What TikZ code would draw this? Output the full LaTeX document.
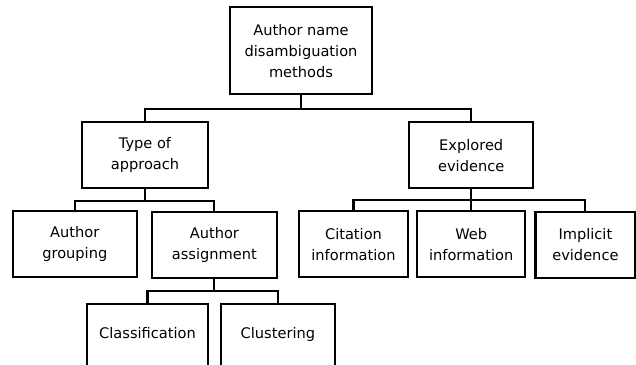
\documentclass[tikz,border=0pt]{standalone}
\usepackage{fontspec}
\setmainfont{DejaVu Sans}
\usetikzlibrary{positioning}

\tikzset{
  catbox/.style={draw, line width=2.1pt, align=center, minimum height=66pt,
    inner sep=0pt, font=\fontsize{14.6}{21}\selectfont},
  leafbox/.style={catbox, minimum height=62pt, text height=10.6pt, text depth=3.4pt, anchor=north},
  branch/.style={line width=2.1pt}
}

\begin{document}
\begin{tikzpicture}[x=1pt, y=-1pt]
    \clip (0,0) rectangle (636,364);
    \useasboundingbox (0,0) rectangle (636,364);
    % root
    \node[catbox, minimum width=142pt, minimum height=86.7pt] (root) at (301,50.7) {Author name\\disambiguation\\methods};
    % second level
    \node[catbox, minimum width=125.3pt] (approach) at (145,155.3) {Type of\\approach};
    \node[catbox, minimum width=123.7pt] (evidence) at (471.2,155.3) {Explored\\evidence};
    % third level
    \node[catbox, minimum width=123.7pt] (grouping) at (74.8,244.2) {Author\\grouping};
    \node[catbox, minimum width=124.7pt] (assignment) at (214.4,245.3) {Author\\assignment};
    \node[catbox, minimum width=108.3pt] (citation) at (353.5,244.2) {Citation\\information};
    \node[catbox, minimum width=108.4pt] (web) at (471.2,244.2) {Web\\information};
    \node[catbox, minimum width=99.8pt] (implicit) at (585.4,245) {Implicit\\evidence};
    % fourth level
    \node[leafbox, minimum width=120.5pt] (classification) at (147.5,302.7) {Classification};
    \node[leafbox, minimum width=113.7pt] (clustering) at (277.9,302.7) {Clustering};
    % connectors
    \draw[branch] (root.south) -- ++(0,13.7) -| (approach.north);
    \draw[branch] (root.south) -- ++(0,13.7) -| (evidence.north);
    \draw[branch] (approach.south) -- ++(0,11.7) -| (grouping.north);
    \draw[branch] (approach.south) -- ++(0,11.7) -| (assignment.north);
    \draw[branch] (evidence.south) -- ++(0,11) -| (citation.north);
    \draw[branch] (evidence.south) -- (web.north);
    \draw[branch] (evidence.south) -- ++(0,11) -| (implicit.north);
    \draw[branch] (assignment.south) -- ++(0,11.7) -| (classification.north);
    \draw[branch] (assignment.south) -- ++(0,11.7) -| (clustering.north);
\end{tikzpicture}
\end{document}
